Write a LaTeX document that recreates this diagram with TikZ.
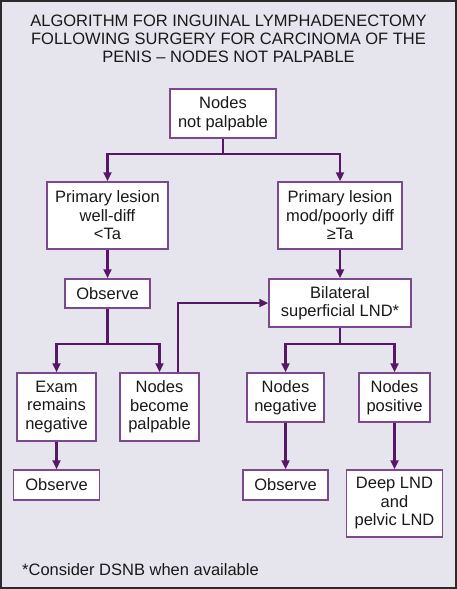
\documentclass[tikz,border=0pt]{standalone}
\usepackage{fontspec}
\setmainfont{Liberation Sans}
\usetikzlibrary{arrows.meta}
\definecolor{bgc}{HTML}{E6E5ED}
\definecolor{boxc}{HTML}{7B4A8C}
\definecolor{arrc}{HTML}{561769}
\definecolor{framec}{HTML}{2B2B2B}
\tikzset{
  box/.style={draw=boxc, line width=1.5pt, fill=white, inner sep=0pt, align=center,
    font=\fontsize{16.5}{18.5}\selectfont, text=black!90},
  arr/.style={draw=arrc, line width=2.3pt,
    -{Triangle[length=9pt,width=8pt]}},
}
\begin{document}
\begin{tikzpicture}[x=1pt,y=-1pt]
\useasboundingbox (0,0) rectangle (457,589);
\fill[bgc] (0,0) rectangle (457,589);
\draw[framec, line width=2pt] (1,1) rectangle (456,588);

\node[align=center, font=\fontsize{16.5}{18}\selectfont, text=black!90] (title) at (228.5,39)
  {ALGORITHM FOR INGUINAL LYMPHADENECTOMY\\FOLLOWING SURGERY FOR CARCINOMA OF THE\\PENIS – NODES NOT PALPABLE};

\node[box, minimum width=106pt, minimum height=49pt] (top) at (223,113.5) {Nodes\\not palpable};
\node[box, minimum width=121pt, minimum height=67pt] (lp) at (107.5,215.5) {Primary lesion\\well-diff\\<Ta};
\node[box, minimum width=124pt, minimum height=67pt] (rp) at (340,215.5) {Primary lesion\\mod/poorly diff\\≥Ta};
\node[box, minimum width=85pt, minimum height=29pt] (obs1) at (107.5,293.5) {Observe};
\node[box, minimum width=142pt, minimum height=48pt] (bil) at (340,303) {Bilateral\\superficial LND*};
\node[box, minimum width=79pt, minimum height=68pt] (exam) at (56.5,407) {Exam\\remains\\negative};
\node[box, minimum width=79pt, minimum height=68pt] (nbp) at (159.5,407) {Nodes\\become\\palpable};
\node[box, minimum width=77pt, minimum height=49pt] (nneg) at (285.5,397.5) {Nodes\\negative};
\node[box, minimum width=71pt, minimum height=49pt] (npos) at (394.5,397.5) {Nodes\\positive};
\node[box, minimum width=86pt, minimum height=30pt] (obs2) at (56.5,485) {Observe};
\node[box, minimum width=85pt, minimum height=30pt] (obs3) at (285.5,485) {Observe};
\node[box, minimum width=96pt, minimum height=67pt] (deep) at (394.5,503.5) {Deep LND\\and\\pelvic LND};

\node[anchor=west, font=\fontsize{16.5}{18.5}\selectfont, text=black!90, inner sep=0pt] (foot) at (22,570)
  {*Consider DSNB when available};

\draw[arr] (top.south) -- ++(0,15) -| (lp.north);
\draw[arr] (top.south) -- ++(0,15) -| (rp.north);
\draw[arr] (lp.south) -- (obs1.north);
\draw[arr] (rp.south) -- (bil.north);
\draw[arr] (obs1.south) -- ++(0,35) -| (exam.north);
\draw[arr] (obs1.south) -- ++(0,35) -| (nbp.north);
\draw[arr] (bil.south) -- ++(0,16) -| (nneg.north);
\draw[arr] (bil.south) -- ++(0,16) -| (npos.north);
\draw[arr] (nbp.north) ++(18.5,0) |- (bil.west);
\draw[arr] (exam.south) -- (obs2.north);
\draw[arr] (nneg.south) -- (obs3.north);
\draw[arr] (npos.south) -- (deep.north);
\end{tikzpicture}
\end{document}
